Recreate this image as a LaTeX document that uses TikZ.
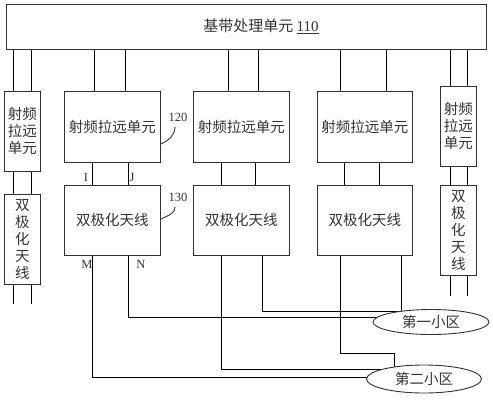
\documentclass[tikz,border=0pt]{standalone}
\usepackage{fontspec}
\setmainfont{Liberation Serif}
\newfontfamily\cjk{Noto Sans CJK SC}
\usetikzlibrary{positioning,shapes.geometric,backgrounds}

\begin{document}
\begin{tikzpicture}[
        x=1pt, y=-1pt,
        line width=0.9pt, color=black!80,
        box/.style={draw, anchor=north west, inner sep=0pt, align=center,
          font=\cjk\fontsize{14.5}{17}\selectfont},
        unit/.style={box, minimum width=96pt, minimum height=71pt},
        slim/.style={box, minimum width=36pt},
        cell/.style={ellipse, draw, fill=white, inner sep=0pt,
          font=\cjk\fontsize{14.5}{17}\selectfont},
        tag/.style={inner sep=0pt, font=\fontsize{12.5}{12.5}\selectfont}
        ]
        \useasboundingbox (0,0) rectangle (493,400);

        % Define the nodes
        \node[box, minimum width=480pt, minimum height=45pt] (bbu) at (6,4) {};
        \node[inner sep=0pt, font=\cjk\fontsize{15}{15}\selectfont] (bbutext) at (261,26)
          {基带处理单元 {\rmfamily\underline{110}}};

        \node[slim, minimum height=80pt] (rrul) at (4,91) {射频\\拉远\\单元};
        \node[slim, minimum height=90pt, below=22pt of rrul] (antl) {双\\极\\化\\天\\线};

        \node[unit] (rru1) at (64,91) {射频拉远单元};
        \node[unit, minimum height=70pt, below=22pt of rru1] (ant1) {双极化天线};
        \node[unit] (rru2) at (193,91) {射频拉远单元};
        \node[unit, minimum height=70pt, below=22pt of rru2] (ant2) {双极化天线};
        \node[unit, minimum width=95pt] (rru3) at (317,91) {射频拉远单元};
        \node[unit, minimum width=95pt, minimum height=70pt, below=22pt of rru3] (ant3) {双极化天线};

        \node[slim, minimum height=80pt] (rrur) at (440,86) {射频\\拉远\\单元};
        \node[slim, minimum height=90pt, below=18pt of rrur] (antr) {双\\极\\化\\天\\线};

        \node[cell, minimum width=116pt, minimum height=25pt] (cell1) at (431,322) {第一小区};
        \node[cell, minimum width=115pt, minimum height=28pt] (cell2) at (424,379) {第二小区};

        \node[tag] (l120) at (178,117) {120};
        \node[tag] (l130) at (178,197) {130};
        \node[tag] (pi) at (86,177) {I};
        \node[tag] (pj) at (132,177) {J};
        \node[tag] (pm) at (87,264) {M};
        \node[tag] (pn) at (141,264) {N};

        \coordinate (endl) at (0,304);
        \coordinate (endr) at (0,296);
        \coordinate (j1) at (401,311);
        \coordinate (j2) at (394,353);

        % Draw the leaders
        \draw (rru1.east |- 0,144) to[out=25, in=-90] ([xshift=-3pt, yshift=-5pt]l120.south);
        \draw (ant1.east |- 0,219) to[out=25, in=-90] ([xshift=-3pt, yshift=-5pt]l130.south);

        % Draw the wires
        \begin{scope}[on background layer]
        \foreach \x in {13,31} {
          \draw (bbu.south -| \x,0) -- (rrul.north -| \x,0);
          \draw (rrul.south -| \x,0) -- (antl.north -| \x,0);
          \draw (antl.south -| \x,0) -- (endl -| \x,0);
        }
        \foreach \x in {450,467} {
          \draw (bbu.south -| \x,0) -- (rrur.north -| \x,0);
          \draw (rrur.south -| \x,0) -- (antr.north -| \x,0);
          \draw (antr.south -| \x,0) -- (endr -| \x,0);
        }
        \foreach \x in {94,125} \draw (bbu.south -| \x,0) -- (rru1.north -| \x,0);
        \foreach \x in {228,258} \draw (bbu.south -| \x,0) -- (rru2.north -| \x,0);
        \foreach \x in {340,386} \draw (bbu.south -| \x,0) -- (rru3.north -| \x,0);
        \foreach \x in {92,128} \draw (rru1.south -| \x,0) -- (ant1.north -| \x,0);
        \foreach \x in {221,255} \draw (rru2.south -| \x,0) -- (ant2.north -| \x,0);
        \foreach \x in {344,379} \draw (rru3.south -| \x,0) -- (ant3.north -| \x,0);

        \draw (ant1.south -| 128,0) |- (cell1.center |- 0,317);
        \draw (ant2.south -| 262,0) |- (j1);
        \draw (ant3.south -| 401,0) -- (cell1.center -| 401,0);

        \draw (ant1.south -| 92,0) |- (cell2.center |- 0,377);
        \draw (ant2.south -| 221,0) |- (cell2.center |- 0,369);
        \draw (ant3.south -| 340,0) |- (j2) -- (cell2.center -| j2);
        \end{scope}
\end{tikzpicture}
\end{document}
